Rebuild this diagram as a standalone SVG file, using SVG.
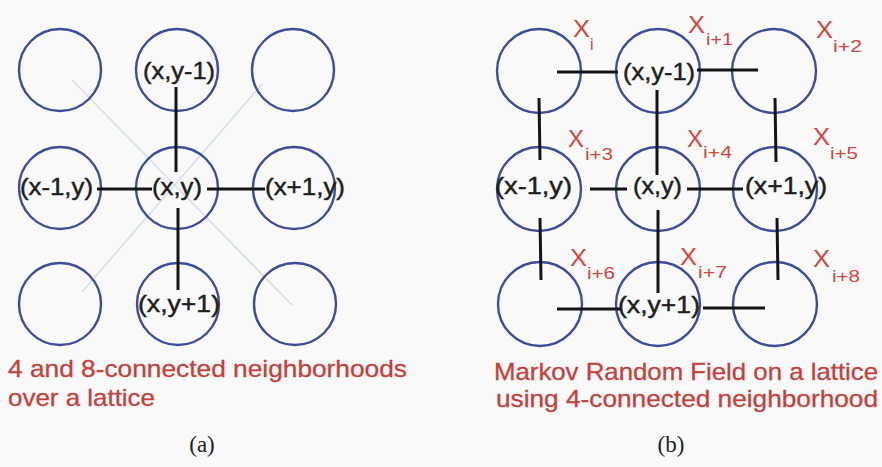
<svg xmlns="http://www.w3.org/2000/svg" width="882" height="467" viewBox="0 0 882 467">
<style>
.node circle{fill:none;stroke:#3f4c98;stroke-width:2.4}
.lbl{font-family:"Liberation Sans",Arial,sans-serif;font-size:24px;fill:#1e1e1e;stroke:#1e1e1e;stroke-width:0.45}
.xl{font-family:"Liberation Sans",Arial,sans-serif;font-size:23px;fill:#d0453f}
.sub{font-family:"Liberation Sans",Arial,sans-serif;font-size:16px;fill:#d0453f}
.cap{font-family:"Liberation Sans",Arial,sans-serif;font-size:24px;fill:#c2413c;stroke:#c2413c;stroke-width:0.3}
.pl{font-family:"Liberation Serif","Times New Roman",serif;font-size:23px;fill:#222}
.edge line{stroke:#141414;stroke-width:3}
.diag line{stroke:#d6dcea;stroke-width:1.5}
</style>
<rect width="882" height="467" fill="#f9f9f9"/>

<!-- Panel (a) -->
<g id="a-diagonals" class="diag">
<line x1="72" y1="80" x2="292" y2="305"/>
<line x1="263" y1="83" x2="82" y2="292"/>
</g>
<g id="a-n00" class="node"><circle cx="60" cy="70" r="41"/></g>
<g id="a-n10" class="node"><circle cx="177" cy="70" r="41"/><text class="lbl" x="143" y="79" textLength="72" lengthAdjust="spacingAndGlyphs">(x,y-1)</text></g>
<g id="a-n20" class="node"><circle cx="293" cy="70" r="41"/></g>
<g id="a-n01" class="node"><circle cx="60" cy="188" r="41"/><text class="lbl" x="20" y="195" textLength="73" lengthAdjust="spacingAndGlyphs">(x-1,y)</text></g>
<g id="a-n11" class="node"><circle cx="177" cy="188" r="41"/><text class="lbl" x="152" y="195" textLength="50" lengthAdjust="spacingAndGlyphs">(x,y)</text></g>
<g id="a-n21" class="node"><circle cx="294" cy="188" r="41"/><text class="lbl" x="265" y="195" textLength="80" lengthAdjust="spacingAndGlyphs">(x+1,y)</text></g>
<g id="a-n02" class="node"><circle cx="60" cy="304" r="41"/></g>
<g id="a-n12" class="node"><circle cx="178" cy="304" r="41"/><text class="lbl" x="138" y="312" textLength="82" lengthAdjust="spacingAndGlyphs">(x,y+1)</text></g>
<g id="a-n22" class="node"><circle cx="295" cy="304" r="41"/></g>
<g id="a-edges" class="edge">
<line x1="176" y1="87" x2="176" y2="172"/>
<line x1="97" y1="189" x2="152" y2="189"/>
<line x1="207" y1="189" x2="265" y2="189"/>
<line x1="178" y1="208" x2="178" y2="290"/>
</g>
<g id="a-caption">
<text class="cap" x="8" y="377" textLength="399" lengthAdjust="spacingAndGlyphs">4 and 8-connected neighborhoods</text>
<text class="cap" x="8" y="406" textLength="147" lengthAdjust="spacingAndGlyphs">over a lattice</text>
<text class="pl" x="202" y="452" text-anchor="middle">(a)</text>
</g>

<!-- Panel (b) -->
<g id="b-n00" class="node"><circle cx="539" cy="71" r="42"/>
<text class="xl" x="573" y="37" textLength="17" lengthAdjust="spacingAndGlyphs">X</text><text class="sub" x="590" y="50">i</text></g>
<g id="b-n10" class="node"><circle cx="658" cy="71" r="42"/><text class="lbl" x="623" y="80" textLength="72" lengthAdjust="spacingAndGlyphs">(x,y-1)</text>
<text class="xl" x="688" y="33" textLength="17" lengthAdjust="spacingAndGlyphs">X</text><text class="sub" x="706" y="45" textLength="27" lengthAdjust="spacingAndGlyphs">i+1</text></g>
<g id="b-n20" class="node"><circle cx="774" cy="71" r="42"/>
<text class="xl" x="816" y="38" textLength="17" lengthAdjust="spacingAndGlyphs">X</text><text class="sub" x="833" y="52" textLength="29" lengthAdjust="spacingAndGlyphs">i+2</text></g>
<g id="b-n01" class="node"><circle cx="539" cy="189" r="42"/><text class="lbl" x="495" y="194" textLength="77" lengthAdjust="spacingAndGlyphs">(x-1,y)</text>
<text class="xl" x="568" y="147" textLength="16" lengthAdjust="spacingAndGlyphs">X</text><text class="sub" x="585" y="160" textLength="28" lengthAdjust="spacingAndGlyphs">i+3</text></g>
<g id="b-n11" class="node"><circle cx="658" cy="189" r="42"/><text class="lbl" x="633" y="194" textLength="49" lengthAdjust="spacingAndGlyphs">(x,y)</text>
<text class="xl" x="687" y="147" textLength="16" lengthAdjust="spacingAndGlyphs">X</text><text class="sub" x="703" y="158" textLength="29" lengthAdjust="spacingAndGlyphs">i+4</text></g>
<g id="b-n21" class="node"><circle cx="775" cy="189" r="42"/><text class="lbl" x="745" y="194" textLength="82" lengthAdjust="spacingAndGlyphs">(x+1,y)</text>
<text class="xl" x="813" y="145" textLength="17" lengthAdjust="spacingAndGlyphs">X</text><text class="sub" x="830" y="159" textLength="28" lengthAdjust="spacingAndGlyphs">i+5</text></g>
<g id="b-n02" class="node"><circle cx="540" cy="304" r="42"/>
<text class="xl" x="570" y="266" textLength="17" lengthAdjust="spacingAndGlyphs">X</text><text class="sub" x="587" y="279" textLength="28" lengthAdjust="spacingAndGlyphs">i+6</text></g>
<g id="b-n12" class="node"><circle cx="658" cy="304" r="42"/><text class="lbl" x="618" y="313" textLength="82" lengthAdjust="spacingAndGlyphs">(x,y+1)</text>
<text class="xl" x="680" y="265" textLength="17" lengthAdjust="spacingAndGlyphs">X</text><text class="sub" x="698" y="278" textLength="29" lengthAdjust="spacingAndGlyphs">i+7</text></g>
<g id="b-n22" class="node"><circle cx="775" cy="304" r="42"/>
<text class="xl" x="813" y="267" textLength="17" lengthAdjust="spacingAndGlyphs">X</text><text class="sub" x="832" y="282" textLength="28" lengthAdjust="spacingAndGlyphs">i+8</text></g>
<g id="b-edges" class="edge">
<line x1="557" y1="72" x2="618" y2="72"/>
<line x1="697" y1="70" x2="758" y2="70"/>
<line x1="590" y1="189" x2="627" y2="189"/>
<line x1="687" y1="189" x2="743" y2="189"/>
<line x1="557" y1="309" x2="620" y2="309"/>
<line x1="703" y1="308" x2="765" y2="308"/>
<line x1="539" y1="98" x2="540" y2="160"/>
<line x1="657" y1="90" x2="657" y2="175"/>
<line x1="775" y1="98" x2="776" y2="162"/>
<line x1="540" y1="218" x2="541" y2="280"/>
<line x1="658" y1="210" x2="658" y2="293"/>
<line x1="777" y1="218" x2="778" y2="280"/>
</g>
<g id="b-caption">
<text class="cap" x="494" y="380" textLength="384" lengthAdjust="spacingAndGlyphs">Markov Random Field on a lattice</text>
<text class="cap" x="496" y="407" textLength="382" lengthAdjust="spacingAndGlyphs">using 4-connected neighborhood</text>
<text class="pl" x="671" y="452" text-anchor="middle">(b)</text>
</g>
</svg>
